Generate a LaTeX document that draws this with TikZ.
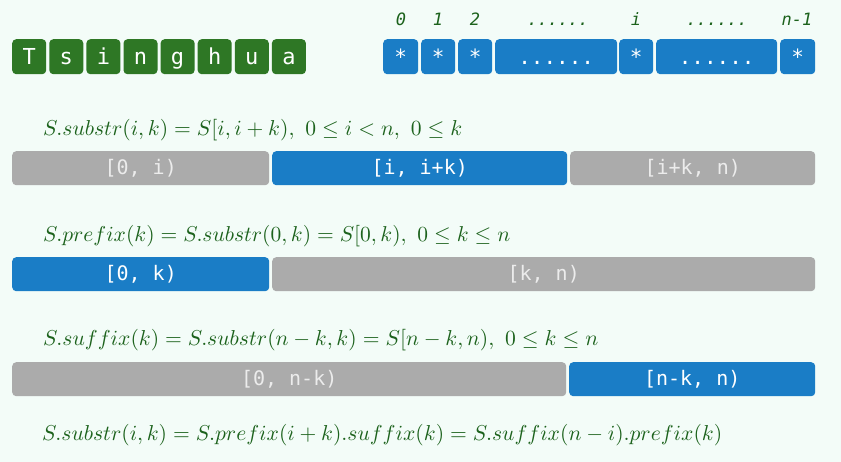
\documentclass[tikz,border=0pt]{standalone}
\usepackage{fontspec}
\setmonofont{DejaVu Sans Mono}
\usepackage{amsmath}
\definecolor{bgc}{RGB}{243,252,248}
\definecolor{grn}{RGB}{46,119,37}
\definecolor{blu}{RGB}{26,125,198}
\definecolor{gry}{RGB}{171,171,171}
\definecolor{gtxt}{RGB}{236,236,236}
\definecolor{ftxt}{RGB}{28,98,28}
\begin{document}
\begin{tikzpicture}[x=1pt,y=-1pt,
  cell/.style={rounded corners=4pt,inner sep=0pt,anchor=north west,text=white,font=\ttfamily\fontsize{21}{21}\selectfont,minimum height=35pt,text height=15pt,text depth=0pt},
  gcell/.style={cell,fill=grn,minimum width=34pt,font=\ttfamily\fontsize{22}{22}\selectfont,text height=16pt},
  bcell/.style={cell,fill=blu},
  bar/.style={rounded corners=4pt,inner sep=0pt,anchor=north west,font=\ttfamily\fontsize{20}{20}\selectfont,minimum height=34pt},
  gbar/.style={bar,fill=gry,text=gtxt},
  bbar/.style={bar,fill=blu,text=white},
  idx/.style={text=ftxt,font=\ttfamily\itshape\fontsize{17}{17}\selectfont,inner sep=0pt,anchor=base},
  form/.style={text=ftxt,anchor=west,inner sep=0pt}]
\useasboundingbox[fill=bgc] (0,0) rectangle (841,462);
% Tsinghua
\foreach \c [count=\i from 0] in {T,s,i,n,g,h,u,a}{
  \node[gcell] (t\i) at ({12+37.1*\i},39) {\c};
}
% index boxes
\node[bcell,minimum width=35pt] (c0) at (383,39) {*};
\node[bcell,minimum width=34pt] (c1) at (421,39) {*};
\node[bcell,minimum width=34pt] (c2) at (458,39) {*};
\node[bcell,minimum width=122pt] (c3) at (495,39) {......};
\node[bcell,minimum width=34pt] (c4) at (619,39) {*};
\node[bcell,minimum width=121pt] (c5) at (656,39) {......};
\node[bcell,minimum width=35pt] (c6) at (780,39) {*};
\node[idx] (l0) at (401,25.5) {0};
\node[idx] (l1) at (438,25.5) {1};
\node[idx] (l2) at (475,25.5) {2};
\node[idx] (l3) at (558,25.5) {......};
\node[idx] (l4) at (636,25.5) {i};
\node[idx] (l5) at (717,25.5) {......};
\node[idx] (l6) at (797,25.5) {n-1};
% row 1
\node[form] (f1) at (43,130) {\resizebox{419pt}{!}{$S.substr(i,k)=S[i,i+k),\ 0\le i<n,\ 0\le k$}};
\node[gbar,minimum width=257pt] (r1a) at (12,151) {[0, i)};
\node[bbar,minimum width=295pt] (r1b) at (272,151) {[i, i+k)};
\node[gbar,minimum width=245pt] (r1c) at (570,151) {[i+k, n)};
% row 2
\node[form] (f2) at (43,236) {\resizebox{467pt}{!}{$S.prefix(k)=S.substr(0,k)=S[0,k),\ 0\le k\le n$}};
\node[bbar,minimum width=257pt] (r2a) at (12,257) {[0, k)};
\node[gbar,minimum width=543pt] (r2b) at (272,257) {[k, n)};
% row 3
\node[form] (f3) at (43,340) {\resizebox{555pt}{!}{$S.suffix(k)=S.substr(n-k,k)=S[n-k,n),\ 0\le k\le n$}};
\node[gbar,minimum width=554pt] (r3a) at (12,362) {[0, n-k)};
\node[bbar,minimum width=246pt] (r3b) at (569,362) {[n-k, n)};
% row 4
\node[form] (f4) at (42,435) {\resizebox{680pt}{!}{$S.substr(i,k)=S.prefix(i+k).suffix(k)=S.suffix(n-i).prefix(k)$}};
\end{tikzpicture}
\end{document}
